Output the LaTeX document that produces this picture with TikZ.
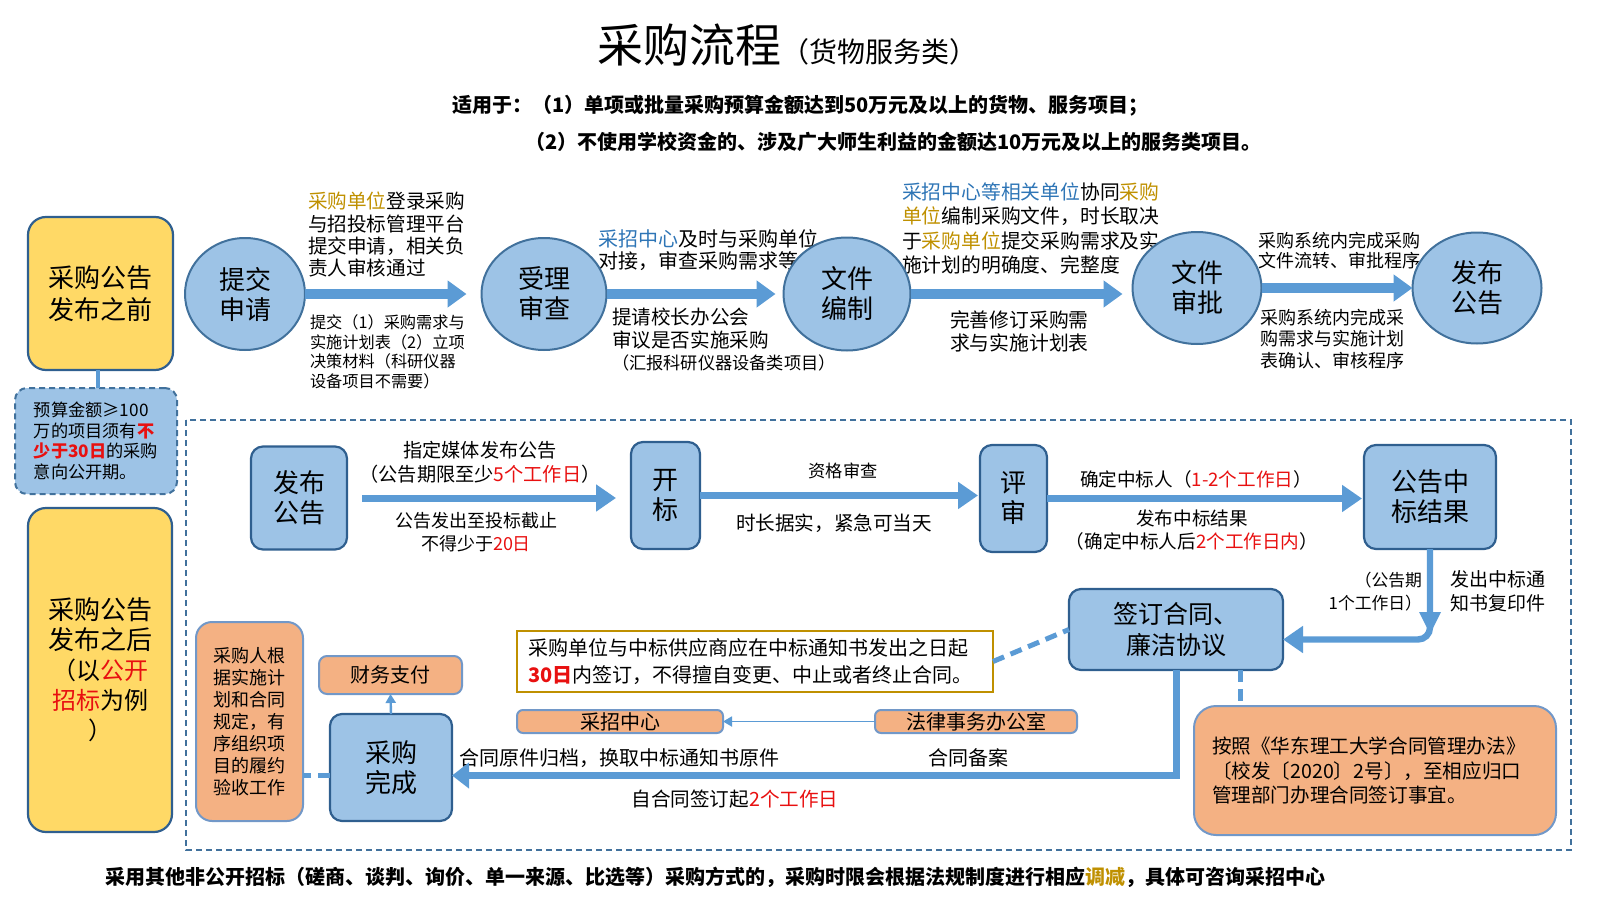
\documentclass[tikz,border=0pt]{standalone}
\usepackage{fontspec}
\setmainfont{Noto Sans CJK SC}
\usetikzlibrary{shapes.geometric,arrows.meta,calc}
\definecolor{cfill}{HTML}{9DC3E6}
\definecolor{cedge}{HTML}{41719C}
\definecolor{bedge}{HTML}{2F5F8F}
\definecolor{arrb}{HTML}{5B9BD5}
\definecolor{ylw}{HTML}{FFD966}
\definecolor{org}{HTML}{F4B183}
\definecolor{oedge}{HTML}{7298C8}
\definecolor{gold}{HTML}{BF9000}
\definecolor{tblue}{HTML}{2E75B6}
\definecolor{tred}{HTML}{E81010}
\newcommand\myfs[2]{\fontsize{#1}{#2}\selectfont}
\begin{document}
\begin{tikzpicture}[x=0.5pt,y=-0.5pt,
  every node/.style={inner sep=0pt, outer sep=0pt},
  ellnode/.style={ellipse, draw=cedge, fill=cfill, line width=1pt, font=\myfs{13}{15}, align=center, minimum height=56pt},
  bluebox/.style={rectangle, rounded corners=6pt, draw=bedge, fill=cfill, line width=1.1pt, font=\myfs{13}{15}, align=center},
  yelbox/.style={rectangle, rounded corners=9pt, draw=bedge, fill=ylw, line width=1.1pt, align=center, font=\myfs{13}{16}},
  orbox/.style={rectangle, rounded corners=3pt, draw=oedge, fill=org, line width=1pt, align=center, font=\myfs{10}{12}},
  bigarr/.style={draw=arrb, line width=5pt, -{Triangle[length=9.5pt,width=13pt]}},
  midarr/.style={draw=arrb, line width=3.5pt, -{Triangle[length=10pt,width=13pt]}},
  botarr/.style={draw=arrb, line width=3.5pt, -{Triangle[length=8.5pt,width=12.5pt]}},
  thinarr/.style={draw=arrb, line width=0.9pt, -{Triangle[length=4.5pt,width=5pt]}},
  dashln/.style={draw=arrb, line width=2.5pt, dash pattern=on 6pt off 3.5pt},
  lbl/.style={align=left, anchor=north west},
  lblc/.style={align=center}]
\useasboundingbox (0,0) rectangle (1600,899);

% title and header
\node[anchor=base west] (title) at (597,63) {\myfs{23}{26}采购流程{\myfs{14}{16}（货物服务类）}};
\node[anchor=west, font=\myfs{10}{12}\bfseries] (h1) at (452,106) {适用于：（1）单项或批量采购预算金额达到50万元及以上的货物、服务项目；};
\node[anchor=west, font=\myfs{10}{12}\bfseries] (h2) at (525,142) {（2）不使用学校资金的、涉及广大师生利益的金额达10万元及以上的服务类项目。};

% big dashed frame
\draw[cedge, line width=1pt, dash pattern=on 3pt off 2pt] (186,420) rectangle (1571,850);

% top-row labels
\node[lbl, font=\myfs{9.8}{11.2}] (t1) at (308,192) {\textcolor{gold}{采购单位}登录采购\\与招投标管理平台\\提交申请，相关负\\责人审核通过};
\node[lbl, font=\myfs{8.1}{9.7}] (t2) at (310,315) {提交（1）采购需求与\\实施计划表（2）立项\\决策材料（科研仪器\\设备项目不需要）};
\node[lbl, font=\myfs{10}{11}] (t3) at (598,230) {\textcolor{tblue}{采招中心}及时与采购单位\\对接，审查采购需求等};
\node[lbl, font=\myfs{9.8}{11.3}] (t4) at (612,308) {提请校长办公会\\审议是否实施采购\\{\myfs{8.6}{11}（汇报科研仪器设备类项目）}};
\node[lbl, font=\myfs{9.9}{12.1}] (t5) at (902,183) {\textcolor{tblue}{采招中心等相关单位}协同\textcolor{gold}{采购}\\\textcolor{gold}{单位}编制采购文件，时长取决\\于\textcolor{gold}{采购单位}提交采购需求及实\\施计划的明确度、完整度};
\node[lbl, font=\myfs{9.9}{11.5}] (t6) at (950,311) {完善修订采购需\\求与实施计划表};
\node[lbl, font=\myfs{9}{10.2}] (t7) at (1258,232) {采购系统内完成采购\\文件流转、审批程序};
\node[lbl, font=\myfs{9}{10.7}] (t8) at (1260,309) {采购系统内完成采\\购需求与实施计划\\表确认、审核程序};

% left column
\node[yelbox, minimum width=72.5pt, minimum height=76.5pt] (yb1) at (100.5,293.5) {采购公告\\发布之前};
\node[rectangle, rounded corners=6pt, draw=cedge, fill=cfill, line width=1pt, dash pattern=on 3pt off 2pt, minimum width=81pt, minimum height=53pt, align=left, font=\myfs{8.6}{10.2}] (db) at (96,441) {预算金额≥100\\万的项目须有\textcolor{tred}{\bfseries 不}\\\textcolor{tred}{\bfseries 少于30日}的采购\\意向公开期。};
\node[yelbox, minimum width=72pt, minimum height=162pt, font=\myfs{13}{15}] (yb2) at (100,670) {采购公告\\发布之后\\{\myfs{12}{15}（以\textcolor{tred}{公开}}\\{\myfs{12}{15}\textcolor{tred}{招标}为例}\\{\myfs{12}{15}）}};

% top-row ellipses
\node[ellnode, minimum width=60pt] (e1) at (245,294) {提交\\申请};
\node[ellnode, minimum width=62.5pt] (e2) at (544,294) {受理\\审查};
\node[ellnode, minimum width=63.5pt, minimum height=56.5pt] (e3) at (847,294) {文件\\编制};
\node[ellnode, minimum width=64.5pt] (e4) at (1197,288) {文件\\审批};
\node[ellnode, minimum width=64.5pt, minimum height=55.5pt] (e5) at (1477,288) {发布\\公告};

% middle-row labels
\node[lblc, font=\myfs{9.6}{12}] (m1) at (480,462) {指定媒体发布公告\\（公告期限至少\textcolor{tred}{5个工作日}）};
\node[lblc, font=\myfs{9}{11.5}] (m2) at (476,532.5) {公告发出至投标截止\\不得少于\textcolor{tred}{20日}};
\node[lblc, font=\myfs{8.6}{10}] (m3) at (843,471) {资格审查};
\node[lblc, font=\myfs{9.8}{11}] (m4) at (834,523) {时长据实，紧急可当天};
\node[lblc, font=\myfs{9.3}{11}] (m5) at (1196,479) {确定中标人（\textcolor{tred}{1-2个工作日}）};
\node[lblc, font=\myfs{9.3}{11.5}] (m6) at (1192,530.5) {发布中标结果\\（确定中标人后\textcolor{tred}{2个工作日内}）};
\node[align=right, anchor=north east, font=\myfs{8.4}{11.5}] (m7) at (1422,572) {（公告期\\1个工作日）};
\node[lbl, font=\myfs{9.5}{12}] (m8) at (1450,570) {发出中标通\\知书复印件};

% middle-row boxes
\node[bluebox, minimum width=48pt, minimum height=51.5pt] (fb) at (299,498) {发布\\公告};
\node[bluebox, minimum width=34.5pt, minimum height=53.5pt] (kb) at (665.5,495.5) {开\\标};
\node[bluebox, minimum width=33.5pt, minimum height=53.5pt] (pb) at (1013.5,498.5) {评\\审};
\node[bluebox, minimum width=66pt, minimum height=52pt] (gz) at (1430,497) {公告中\\标结果};

% bottom section
\node[bluebox, minimum width=107pt, minimum height=40.5pt, font=\myfs{12.5}{15.5}] (qd) at (1176,629.5) {签订合同、\\廉洁协议};
\node[rectangle, draw=gold, fill=white, line width=1pt, text width=227pt, align=left, inner xsep=5.5pt, minimum height=30.5pt, font=\myfs{10}{13.5}] (note) at (755,661.5) {采购单位与中标供应商应在中标通知书发出之日起\\\textcolor{tred}{\bfseries 30日}内签订，不得擅自变更、中止或者终止合同。};
\node[orbox, minimum width=103pt, minimum height=11.5pt] (zc) at (620,721.5) {采招中心};
\node[orbox, minimum width=101pt, minimum height=11.5pt] (fl) at (976,721.5) {法律事务办公室};
\node[bluebox, minimum width=61pt, minimum height=53.5pt] (wc) at (391,767.5) {采购\\完成};
\node[orbox, rounded corners=4pt, minimum width=71.5pt, minimum height=19pt] (cw) at (390.5,675) {财务支付};
\node[orbox, rounded corners=8pt, minimum width=53.5pt, minimum height=99.5pt, font=\myfs{9}{11}] (cg) at (249.5,721.5) {采购人根\\据实施计\\划和合同\\规定，有\\序组织项\\目的履约\\验收工作};
\node[orbox, rounded corners=11pt, minimum width=181pt, minimum height=64.5pt, text width=163pt, inner xsep=9pt, align=left, font=\myfs{9.8}{12.25}] (ab) at (1375,770.5) {按照《华东理工大学合同管理办法》\\〔校发〔2020〕2号〕，至相应归口\\管理部门办理合同签订事宜。};

\node[anchor=west, font=\myfs{10}{12}] (b1) at (459,758) {合同原件归档，换取中标通知书原件};
\node[font=\myfs{10}{12}] (b2) at (968,758) {合同备案};
\node[font=\myfs{9.8}{12}] (b3) at (735,799) {自合同签订起\textcolor{tred}{2个工作日}};

% footnote
\node[anchor=west, font=\myfs{10}{12}\bfseries] (foot) at (105,877) {采用其他非公开招标（磋商、谈判、询价、单一来源、比选等）采购方式的，采购时限会根据法规制度进行相应\textcolor{gold}{调减}，具体可咨询采招中心};

% connectors: top row
\coordinate (ybc) at ($(yb1.south)+(-3,0)$);
\draw[arrb, line width=2pt] (ybc) -- (ybc |- db.north);
\draw[bigarr, shorten >=7.5pt] (e1.east) -- (e2.west);
\draw[bigarr, shorten >=4pt] (e2.east) -- (e3.west);
\draw[bigarr, shorten >=5pt] (e3.east) -- (e3.east -| e4.west);
\draw[bigarr] (e4.east) -- (e5.west);

% middle row
\draw[midarr, shorten <=7.5pt, shorten >=7.5pt] (fb.east) -- (fb.east -| kb.west);
\draw[midarr, shorten >=1pt] (kb.east) -- (kb.east -| pb.west);
\draw[midarr, shorten >=1pt] (pb.east) -- (pb.east -| gz.west);

% result -> contract
\coordinate (qdr) at ([yshift=-5pt]qd.east);
\draw[midarr, line width=3.2pt, rounded corners=6pt] (gz.south) |- (qdr);
\fill[arrb] ($(gz.south)+(-11,63)$) -- ($(gz.south)+(11,63)$) -- ($(gz.south)+(0,85)$) -- cycle;

% contract connections
\draw[dashln] (note.east) -- (qd.west);
\coordinate (qdb) at ($(qd.south west)!0.8!(qd.south east)$);
\draw[dashln] (qdb) -- (qdb |- ab.north);
\coordinate (wcr) at ([yshift=-4pt]wc.east);
\draw[botarr] (qd.south) |- (wcr);
\draw[thinarr] (fl.west) -- (zc.east);
\draw[thinarr, line width=1.2pt] (wc.north) -- (cw.south);
\coordinate (wcl) at ([yshift=-4pt]wc.west);
\draw[dashln] (wcl) -- (wcl -| cg.east);
\end{tikzpicture}
\end{document}
